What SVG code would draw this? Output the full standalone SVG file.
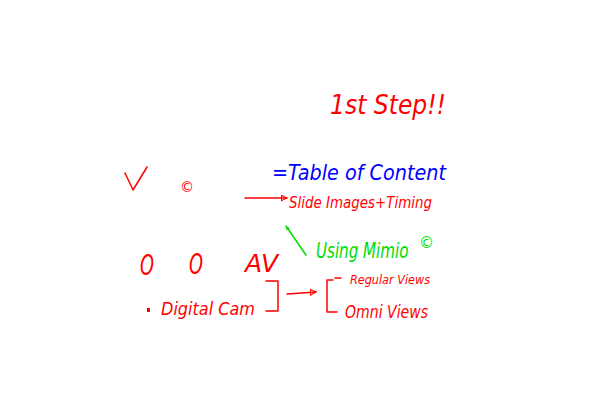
<svg xmlns="http://www.w3.org/2000/svg" width="600" height="400" viewBox="0 0 600 400">
<style>
.t{font-family:"DejaVu Sans","Liberation Sans",sans-serif;font-style:italic;font-weight:normal}
.r{fill:#ff0000}.b{fill:#0000ff}.g{fill:#00dd00}
.sr{stroke:#ff0000;fill:none;stroke-width:1.5;stroke-linecap:round;stroke-linejoin:round}
.sg{stroke:#00dd00;fill:none;stroke-width:1.5;stroke-linecap:round;stroke-linejoin:round}
</style>
<defs>
<marker id="ah" viewBox="0 0 10 10" refX="9" refY="5" markerWidth="7" markerHeight="7" orient="auto" markerUnits="userSpaceOnUse"><path d="M1,1 L9,5 L1,9 Z" fill="none" stroke="#ff0000" stroke-width="1.5"/></marker>
<marker id="ahg" viewBox="0 0 10 10" refX="9" refY="5" markerWidth="5" markerHeight="5" orient="auto" markerUnits="userSpaceOnUse"><path d="M1,1 L9,5 L1,9 Z" fill="#00dd00"/></marker>
</defs>
<rect width="600" height="400" fill="#ffffff"/>
<g id="title"><text class="t r" x="330" y="114" font-size="26" textLength="116" lengthAdjust="spacingAndGlyphs">1st Step!!</text></g>
<g id="check"><path class="sr" d="M125,173 L133,190 L147,167"/></g>
<g id="copy1"><text class="t r" x="187" y="192" font-size="14" text-anchor="middle" font-style="normal">©</text></g>
<g id="toc"><text class="t b" x="272" y="180" font-size="21" textLength="174" lengthAdjust="spacingAndGlyphs">=Table of Content</text></g>
<g id="slides"><text class="t r" x="289" y="208" font-size="16" textLength="143" lengthAdjust="spacingAndGlyphs">Slide Images+Timing</text></g>
<g id="mimio"><text class="t g" transform="translate(316,258) scale(0.72,1)" x="0" y="0" font-size="21">Using Mimio</text><text class="t g" x="419" y="248" font-size="15" font-style="normal">©</text></g>
<g id="o1"><text class="t r" x="140" y="275" font-size="28" textLength="14" lengthAdjust="spacingAndGlyphs">O</text></g>
<g id="o2"><text class="t r" x="189" y="274" font-size="28" textLength="14" lengthAdjust="spacingAndGlyphs">O</text></g>
<g id="av"><text class="t r" x="245" y="272" font-size="24" textLength="33" lengthAdjust="spacingAndGlyphs">AV</text></g>
<g id="digicam"><rect x="147" y="308" width="3" height="4" fill="#ff0000"/><text class="t r" x="161" y="315" font-size="17" textLength="94" lengthAdjust="spacingAndGlyphs">Digital Cam</text></g>
<g id="regular"><text class="t r" x="350" y="284" font-size="12" textLength="80" lengthAdjust="spacingAndGlyphs">Regular Views</text></g>
<g id="omni"><text class="t r" x="345" y="318" font-size="17" textLength="83" lengthAdjust="spacingAndGlyphs">Omni Views</text></g>
<g id="connectors">
<path class="sr" d="M245,198 L287,198" marker-end="url(#ah)"/>
<path class="sg" d="M306,255 L286,226" marker-end="url(#ahg)"/>
<path class="sr" d="M266,281 L278,281 L278,311 L266,311"/>
<path class="sr" d="M287,294 L316,292" marker-end="url(#ah)"/>
<path class="sr" d="M333,280 L327,280 L327,312 L337,312 M335,278 L341,278"/>
</g>
</svg>
